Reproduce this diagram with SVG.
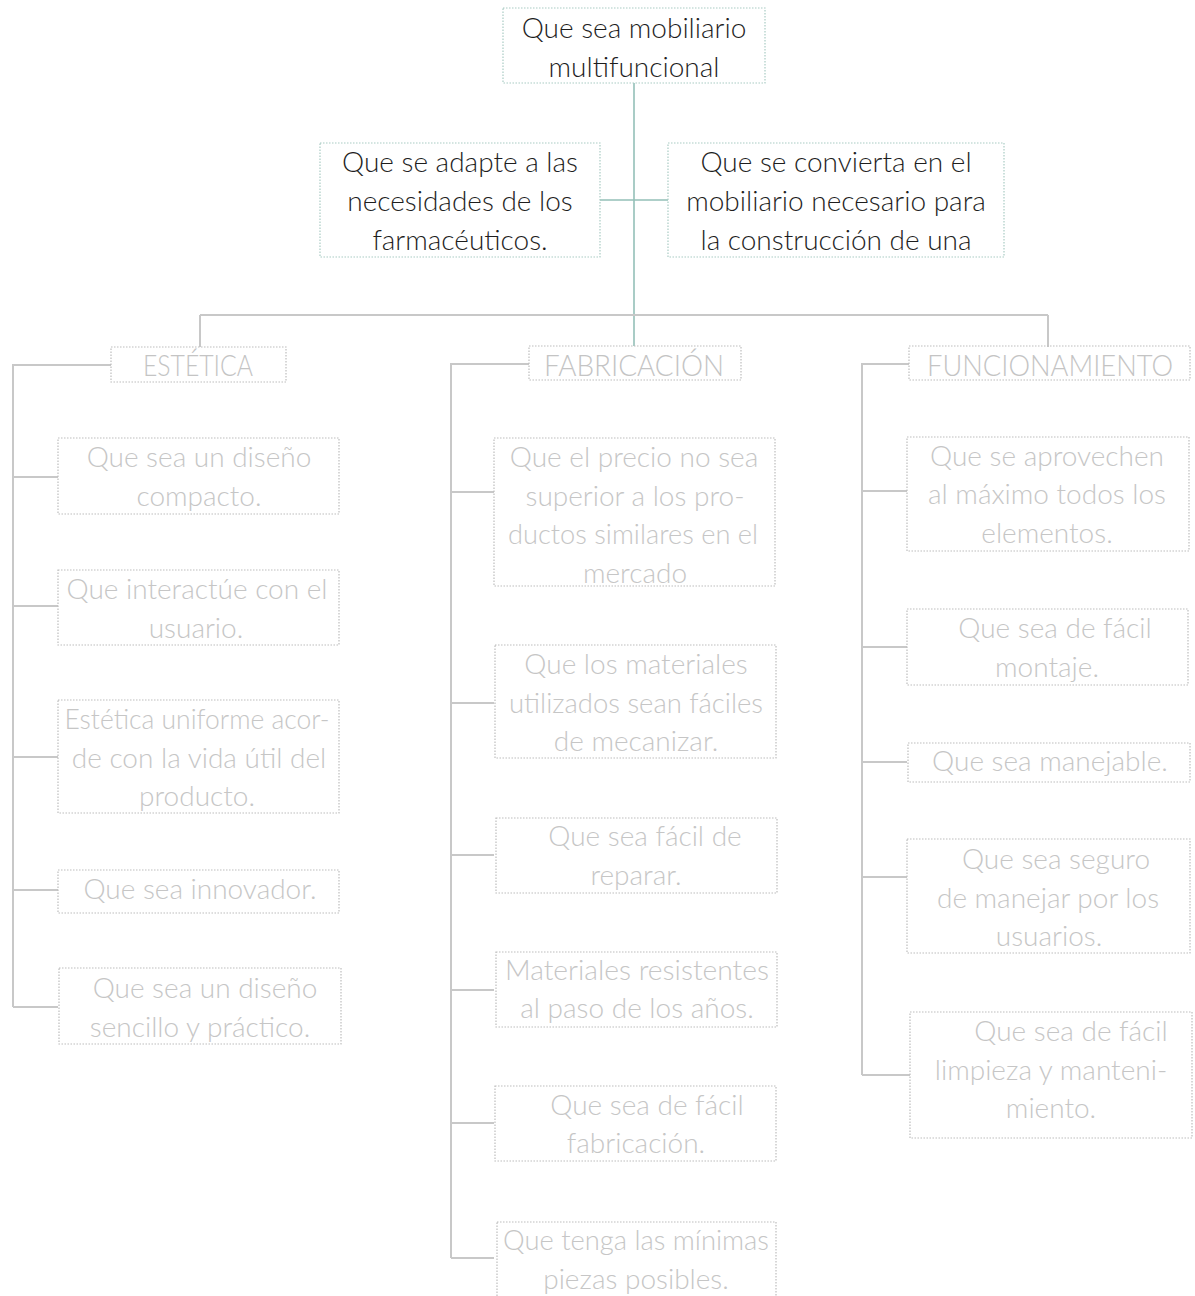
<svg xmlns="http://www.w3.org/2000/svg" width="1195" height="1296" viewBox="0 0 1195 1296">
<style>
text{font-family:"Lato","Open Sans","Liberation Sans",sans-serif;font-weight:300;text-anchor:middle}
.top{fill:#1e1e1e;font-size:28px}
.h{fill:#c4c4c4;font-size:30px}
.c{fill:#c6c6c6;font-size:28px}
.bt{fill:none;stroke:#a9cbc4;stroke-width:1.2;stroke-dasharray:1.5 1.5}
.bg{fill:none;stroke:#bdbdbd;stroke-width:1.2;stroke-dasharray:1.5 1.5}
.lt{fill:none;stroke:#94c0b8;stroke-width:1.6}
.lg{fill:none;stroke:#c8c8c8;stroke-width:2}
</style>
<rect width="1195" height="1296" fill="#ffffff"/>
<g id="connectors">
<path class="lt" d="M634 83V346M600 200H668"/>
<path class="lg" d="M200 315H1048M200 315V347M1048 315V347"/>
<path class="lg" d="M111 365H13V1007M13 477H58M13 606H58M13 757H58M13 890H58M13 1007H58"/>
<path class="lg" d="M529 364H451V1258M451 492H494M451 703H494M451 855H494M451 990H494M451 1123H494M451 1258H494"/>
<path class="lg" d="M909 364H862V1075M862 491H907M862 647H907M862 762H907M862 877H907M862 1075H910"/>
</g>
<g id="root"><rect class="bt" x="503" y="8" width="262" height="75"/><text class="top" x="634" y="38">Que sea mobiliario</text><text class="top" x="634" y="77">multifuncional</text></g>
<g id="n-adapte"><rect class="bt" x="320" y="143" width="280" height="114"/><text class="top" x="460" y="172">Que se adapte a las</text><text class="top" x="460" y="211">necesidades de los</text><text class="top" x="460" y="250">farmacéuticos.</text></g>
<g id="n-convierta"><rect class="bt" x="668" y="143" width="336" height="114"/><text class="top" x="836" y="172">Que se convierta en el</text><text class="top" x="836" y="211">mobiliario necesario para</text><text class="top" x="836" y="250">la construcción de una</text></g>
<g id="h-estetica"><rect class="bg" x="111" y="347" width="175" height="35"/><text class="h" x="198" y="376" textLength="110" lengthAdjust="spacingAndGlyphs">ESTÉTICA</text></g>
<g id="h-fabricacion"><rect class="bg" x="529" y="346" width="212" height="34"/><text class="h" x="634" y="376" textLength="180" lengthAdjust="spacingAndGlyphs">FABRICACIÓN</text></g>
<g id="h-funcionamiento"><rect class="bg" x="909" y="346" width="281" height="34"/><text class="h" x="1050" y="376" textLength="246" lengthAdjust="spacingAndGlyphs">FUNCIONAMIENTO</text></g>
<g id="e1"><rect class="bg" x="58" y="438" width="281" height="76"/><text class="c" x="199" y="467">Que sea un diseño</text><text class="c" x="199" y="506">compacto.</text></g>
<g id="e2"><rect class="bg" x="58" y="570" width="281" height="75"/><text class="c" x="197" y="599">Que interactúe con el</text><text class="c" x="196" y="638">usuario.</text></g>
<g id="e3"><rect class="bg" x="58" y="700" width="281" height="113"/><text class="c" x="197" y="729" textLength="265" lengthAdjust="spacingAndGlyphs">Estética uniforme acor-</text><text class="c" x="199" y="768">de con la vida útil del</text><text class="c" x="197" y="806">producto.</text></g>
<g id="e4"><rect class="bg" x="58" y="870" width="281" height="43"/><text class="c" x="200" y="899">Que sea innovador.</text></g>
<g id="e5"><rect class="bg" x="59" y="968" width="282" height="76"/><text class="c" x="205" y="998">Que sea un diseño</text><text class="c" x="200" y="1037">sencillo y práctico.</text></g>
<g id="f1"><rect class="bg" x="494" y="438" width="281" height="148"/><text class="c" x="634" y="467">Que el precio no sea</text><text class="c" x="635" y="506">superior a los pro-</text><text class="c" x="633" y="544" textLength="250" lengthAdjust="spacingAndGlyphs">ductos similares en el</text><text class="c" x="635" y="583">mercado</text></g>
<g id="f2"><rect class="bg" x="495" y="645" width="281" height="113"/><text class="c" x="636" y="674">Que los materiales</text><text class="c" x="636" y="713" textLength="254" lengthAdjust="spacingAndGlyphs">utilizados sean fáciles</text><text class="c" x="636" y="751">de mecanizar.</text></g>
<g id="f3"><rect class="bg" x="496" y="818" width="281" height="75"/><text class="c" x="645" y="846">Que sea fácil de</text><text class="c" x="636" y="885">reparar.</text></g>
<g id="f4"><rect class="bg" x="496" y="952" width="281" height="75"/><text class="c" x="637" y="980" textLength="264" lengthAdjust="spacingAndGlyphs">Materiales resistentes</text><text class="c" x="637" y="1018">al paso de los años.</text></g>
<g id="f5"><rect class="bg" x="495" y="1086" width="281" height="75"/><text class="c" x="647" y="1115">Que sea de fácil</text><text class="c" x="636" y="1153">fabricación.</text></g>
<g id="f6"><rect class="bg" x="497" y="1222" width="279" height="76"/><text class="c" x="636" y="1250" textLength="266" lengthAdjust="spacingAndGlyphs">Que tenga las mínimas</text><text class="c" x="636" y="1289">piezas posibles.</text></g>
<g id="u1"><rect class="bg" x="907" y="437" width="282" height="114"/><text class="c" x="1047" y="466">Que se aprovechen</text><text class="c" x="1047" y="504">al máximo todos los</text><text class="c" x="1047" y="543">elementos.</text></g>
<g id="u2"><rect class="bg" x="907" y="609" width="281" height="76"/><text class="c" x="1055" y="638">Que sea de fácil</text><text class="c" x="1047" y="677">montaje.</text></g>
<g id="u3"><rect class="bg" x="908" y="743" width="282" height="39"/><text class="c" x="1050" y="771">Que sea manejable.</text></g>
<g id="u4"><rect class="bg" x="907" y="839" width="283" height="114"/><text class="c" x="1056" y="869">Que sea seguro</text><text class="c" x="1048" y="908">de manejar por los</text><text class="c" x="1049" y="946">usuarios.</text></g>
<g id="u5"><rect class="bg" x="910" y="1012" width="282" height="126"/><text class="c" x="1071" y="1041">Que sea de fácil</text><text class="c" x="1051" y="1080">limpieza y manteni-</text><text class="c" x="1051" y="1118">miento.</text></g>
</svg>
